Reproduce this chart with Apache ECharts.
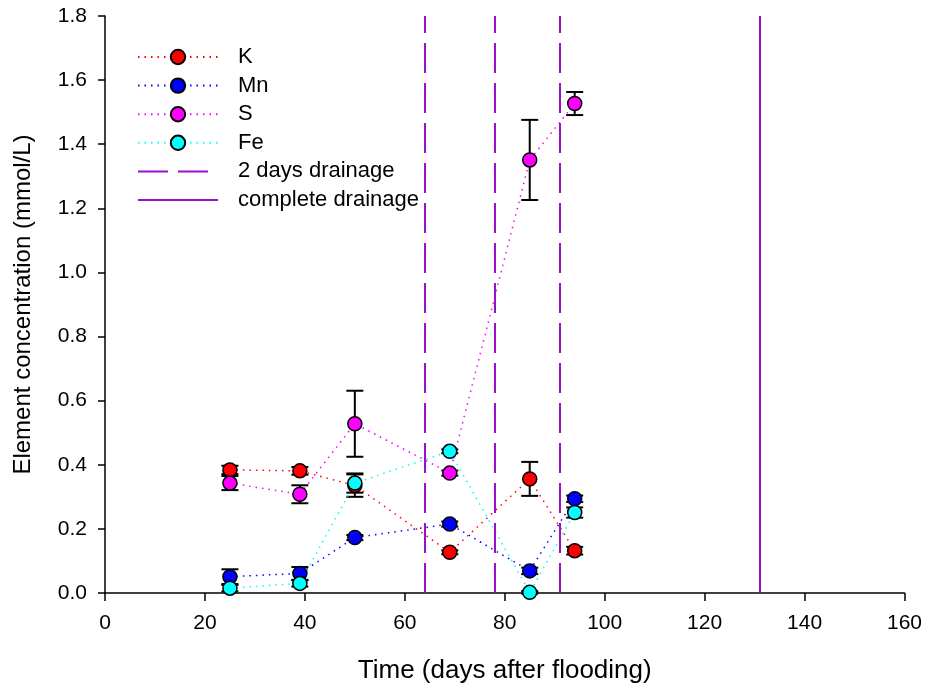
<!DOCTYPE html>
<html>
<head>
<meta charset="utf-8">
<script src="https://cdn.jsdelivr.net/npm/echarts@6/dist/echarts.min.js"></script>
<style>
  html, body { margin: 0; padding: 0; background: #ffffff; }
  #chart { width: 925px; height: 691px; }
</style>
</head>
<body>
<div id="chart"></div>
<script>
// Sampling days (days after flooding)
const days = [25, 39, 50, 69, 85, 94];

// Element concentrations (mmol/L) and their error half-widths
const K     = [0.384, 0.381, 0.335, 0.127, 0.356, 0.132];
const K_err = [0.013, 0.012, 0.035, 0.006, 0.053, 0.012];
const Mn     = [0.051, 0.061, 0.173, 0.215, 0.069, 0.294];
const Mn_err = [0.023, 0.020, 0.008, 0.008, 0.010, 0.010];
const S     = [0.343, 0.308, 0.528, 0.374, 1.351, 1.527];
const S_err = [0.022, 0.028, 0.103, 0.008, 0.125, 0.036];
const Fe     = [0.015, 0.030, 0.343, 0.442, 0.002, 0.251];
const Fe_err = [0.010, 0.010, 0.030, 0.006, 0.004, 0.016];

// Drainage events (day)
const twoDayDrainage = [64, 78, 91];
const completeDrainage = [131];

// Axis ticks
const xTicks = [0, 20, 40, 60, 80, 100, 120, 140, 160];
const yTicks = [0.0, 0.2, 0.4, 0.6, 0.8, 1.0, 1.2, 1.4, 1.6, 1.8];

const FONT = 'Liberation Sans, Arial, sans-serif';
const DRAIN_COLOR = '#9a10c8';

const elements = [
  { name: 'K',  values: K,  errs: K_err,  color: '#ff0000' },
  { name: 'Mn', values: Mn, errs: Mn_err, color: '#0000ff' },
  { name: 'S',  values: S,  errs: S_err,  color: '#ff00ff' },
  { name: 'Fe', values: Fe, errs: Fe_err, color: '#00ffff' }
];

function errorBarItem(params, api) {
  const x = api.value(0), y = api.value(1), e = api.value(2);
  const top = api.coord([x, y + e]);
  const bot = api.coord([x, y - e]);
  const half = 8.5;
  const style = { stroke: '#000000', lineWidth: 2 };
  return {
    type: 'group',
    children: [
      { type: 'line', shape: { x1: top[0], y1: top[1], x2: bot[0], y2: bot[1] }, style },
      { type: 'line', shape: { x1: top[0] - half, y1: top[1], x2: top[0] + half, y2: top[1] }, style },
      { type: 'line', shape: { x1: bot[0] - half, y1: bot[1], x2: bot[0] + half, y2: bot[1] }, style }
    ]
  };
}

const series = [];

// Error bars sit underneath the markers
elements.forEach(el => {
  series.push({
    type: 'custom',
    name: el.name + ' error',
    renderItem: errorBarItem,
    data: days.map((d, i) => [d, el.values[i], el.errs[i]]),
    z: 1,
    silent: true,
    animation: false
  });
});

elements.forEach(el => {
  series.push({
    type: 'line',
    name: el.name,
    data: days.map((d, i) => [d, el.values[i]]),
    symbol: 'circle',
    symbolSize: 14,
    lineStyle: { color: el.color, width: 1.5, type: [1.5, 5] },
    itemStyle: { color: el.color, borderColor: '#000000', borderWidth: 1.5 },
    z: 3,
    animation: false
  });
});

function drainageSeries(name, days, type) {
  return {
    type: 'line',
    name: name,
    data: [],
    symbol: 'none',
    symbolSize: 0,
    lineStyle: { color: DRAIN_COLOR, width: 2, type: type },
    itemStyle: { color: DRAIN_COLOR, opacity: 0 },
    markLine: {
      silent: true,
      symbol: ['none', 'none'],
      label: { show: false },
      lineStyle: { color: DRAIN_COLOR, width: 2, type: type, opacity: 1 },
      data: days.map(d => ({ xAxis: d })),
      animation: false
    },
    z: 2,
    animation: false
  };
}

series.push(drainageSeries('2 days drainage', twoDayDrainage, [30, 10]));
series.push(drainageSeries('complete drainage', completeDrainage, 'solid'));

const chart = echarts.init(document.getElementById('chart'), null, { renderer: 'canvas' });
chart.setOption({
  animation: false,
  backgroundColor: '#ffffff',
  grid: { left: 105, right: 20, top: 16, bottom: 98, containLabel: false },
  legend: {
    data: ['K', 'Mn', 'S', 'Fe',
      { name: '2 days drainage', itemStyle: { opacity: 0 } },
      { name: 'complete drainage', itemStyle: { opacity: 0 } }],
    orient: 'vertical',
    left: 132,
    top: 41,
    itemWidth: 80,
    itemHeight: 18,
    itemGap: 6.6,
    selectedMode: false,
    textStyle: { fontFamily: FONT, fontSize: 22, color: '#000000', lineHeight: 22, padding: [0, 0, 0, 15] }
  },
  xAxis: {
    type: 'value',
    min: xTicks[0],
    max: xTicks[xTicks.length - 1],
    interval: 20,
    name: 'Time (days after flooding)',
    nameLocation: 'middle',
    nameGap: 65,
    nameTextStyle: { fontFamily: FONT, fontSize: 26, color: '#000000' },
    axisLine: { lineStyle: { color: '#000000', width: 1.5 } },
    axisTick: { length: 8, lineStyle: { color: '#000000', width: 1.5 } },
    axisLabel: { fontFamily: FONT, fontSize: 21, color: '#000000', margin: 20 },
    splitLine: { show: false }
  },
  yAxis: {
    type: 'value',
    min: yTicks[0],
    max: yTicks[yTicks.length - 1],
    interval: 0.2,
    name: 'Element concentration (mmol/L)',
    nameLocation: 'middle',
    nameGap: 70,
    nameTextStyle: { fontFamily: FONT, fontSize: 24, color: '#000000' },
    axisLine: { lineStyle: { color: '#000000', width: 1.5 } },
    axisTick: { length: 7, lineStyle: { color: '#000000', width: 1.5 } },
    axisLabel: { fontFamily: FONT, fontSize: 21, color: '#000000', margin: 18,
                 formatter: v => v.toFixed(1) },
    splitLine: { show: false }
  },
  series
});
</script>
</body>
</html>
